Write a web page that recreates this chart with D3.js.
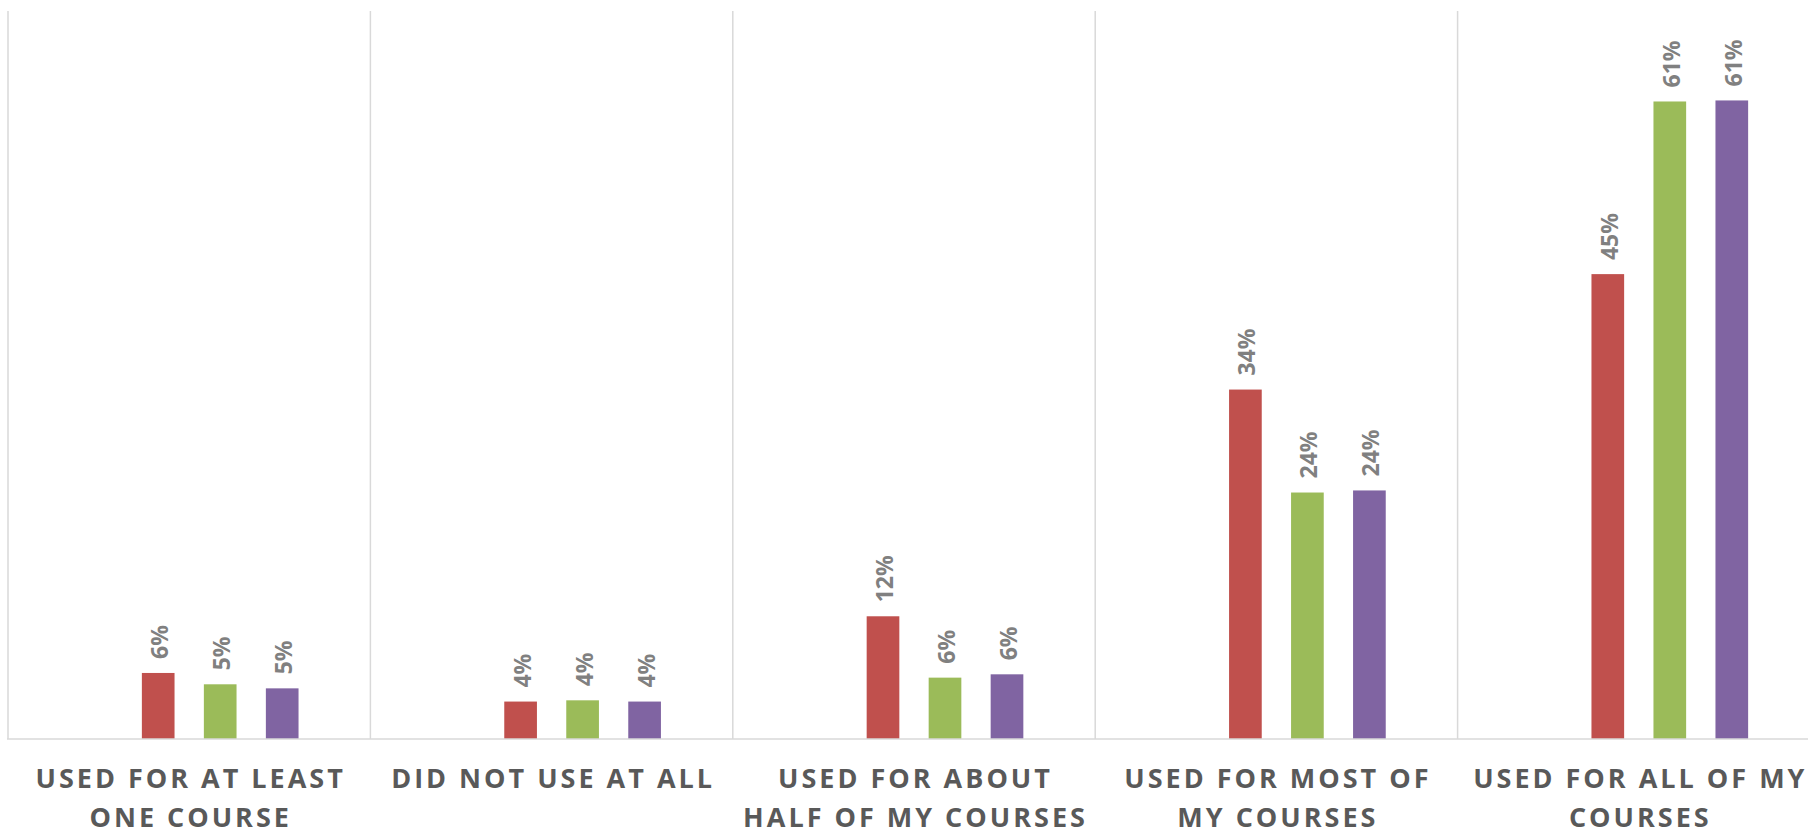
<!DOCTYPE html>
<html>
<head>
<meta charset="utf-8">
<script src="https://cdn.jsdelivr.net/npm/d3@7"></script>
<style>
  html, body { margin: 0; padding: 0; background: #ffffff; }
  svg { display: block; }
</style>
</head>
<body>
<svg id="chart" width="1808" height="835"></svg>
<script>
// Survey responses: how often a tool was used across courses, three groups.
const categories = [
  "USED FOR AT LEAST ONE COURSE",
  "DID NOT USE AT ALL",
  "USED FOR ABOUT HALF OF MY COURSES",
  "USED FOR MOST OF MY COURSES",
  "USED FOR ALL OF MY COURSES"
];

// Series slots in the clustered layout; the first slot carries no values.
const slots = ["blank", "red", "green", "purple"];

const seriesRed    = [0.0635, 0.036, 0.118, 0.336, 0.447];
const seriesGreen  = [0.0526, 0.0372, 0.059, 0.237, 0.613];
const seriesPurple = [0.0487, 0.036, 0.0622, 0.239, 0.614];

const seriesColors = { red: "#C0504D", green: "#9BBB59", purple: "#8064A2" };
const yMax = 0.70;

const svg = d3.select("#chart");
const plot = { left: 8, right: 1820, top: 11, bottom: 739 };

const x = d3.scaleBand()
  .domain(categories)
  .range([plot.left, plot.right])
  .padding(0);

const groupWidth = 248;
const groupOffset = (x.bandwidth() - groupWidth) / 2;
const xs = d3.scaleBand()
  .domain(slots)
  .range([groupOffset, groupOffset + groupWidth])
  .paddingInner(0.473)
  .paddingOuter(0.2365);

const y = d3.scaleLinear()
  .domain([0, yMax])
  .range([plot.bottom, plot.top]);

// Vertical separators between categories
svg.append("g")
  .selectAll("line")
  .data(categories.concat(["__end"]))
  .join("line")
  .attr("x1", (d, i) => i < categories.length ? x(d) : plot.right)
  .attr("x2", (d, i) => i < categories.length ? x(d) : plot.right)
  .attr("y1", plot.top)
  .attr("y2", plot.bottom)
  .attr("stroke", "#d9d9d9")
  .attr("stroke-width", 1.5);

const records = [];
categories.forEach((c, i) => {
  records.push({ cat: c, slot: "red", value: seriesRed[i] });
  records.push({ cat: c, slot: "green", value: seriesGreen[i] });
  records.push({ cat: c, slot: "purple", value: seriesPurple[i] });
});

// Bars
svg.append("g")
  .selectAll("rect")
  .data(records)
  .join("rect")
  .attr("x", d => x(d.cat) + xs(d.slot))
  .attr("y", d => y(d.value))
  .attr("width", xs.bandwidth())
  .attr("height", d => y(0) - y(d.value))
  .attr("fill", d => seriesColors[d.slot]);

// Baseline
svg.append("line")
  .attr("x1", plot.left - 1)
  .attr("x2", plot.right)
  .attr("y1", plot.bottom)
  .attr("y2", plot.bottom)
  .attr("stroke", "#d9d9d9")
  .attr("stroke-width", 1.5);

// Value labels, rotated, above each bar
const fmt = d3.format(".0%");
svg.append("g")
  .selectAll("text")
  .data(records)
  .join("text")
  .attr("transform", d => {
    const cx = x(d.cat) + xs(d.slot) + xs.bandwidth() / 2 + 1;
    const cy = y(d.value) - 14;
    return `translate(${cx},${cy}) rotate(-90)`;
  })
  .attr("text-anchor", "start")
  .attr("dominant-baseline", "central")
  .attr("font-family", "'Open Sans', sans-serif")
  .attr("font-weight", 700)
  .attr("font-size", 23)
  .attr("fill", "#808080")
  .text(d => fmt(d.value));

// Category labels, wrapped to the category width
const labelFont = { family: "'Open Sans', sans-serif", size: 27, spacing: 3 };
const labelG = svg.append("g");
categories.forEach(c => {
  const t = labelG.append("text")
    .attr("x", x(c) + x.bandwidth() / 2 + labelFont.spacing / 2)
    .attr("text-anchor", "middle")
    .attr("font-family", labelFont.family)
    .attr("font-weight", 700)
    .attr("font-size", labelFont.size)
    .attr("letter-spacing", labelFont.spacing)
    .attr("fill", "#595959");
  const words = c.split(" ");
  const lines = [];
  let cur = [];
  const probe = t.append("tspan");
  words.forEach(w => {
    const test = cur.concat([w]).join(" ");
    probe.text(test);
    if (probe.node().getComputedTextLength() > 345 && cur.length) {
      lines.push(cur.join(" "));
      cur = [w];
    } else {
      cur.push(w);
    }
  });
  lines.push(cur.join(" "));
  probe.remove();
  lines.forEach((ln, i) => {
    t.append("tspan")
      .attr("x", x(c) + x.bandwidth() / 2 + labelFont.spacing / 2)
      .attr("y", 788 + i * 38.5)
      .text(ln);
  });
});
</script>
</body>
</html>
